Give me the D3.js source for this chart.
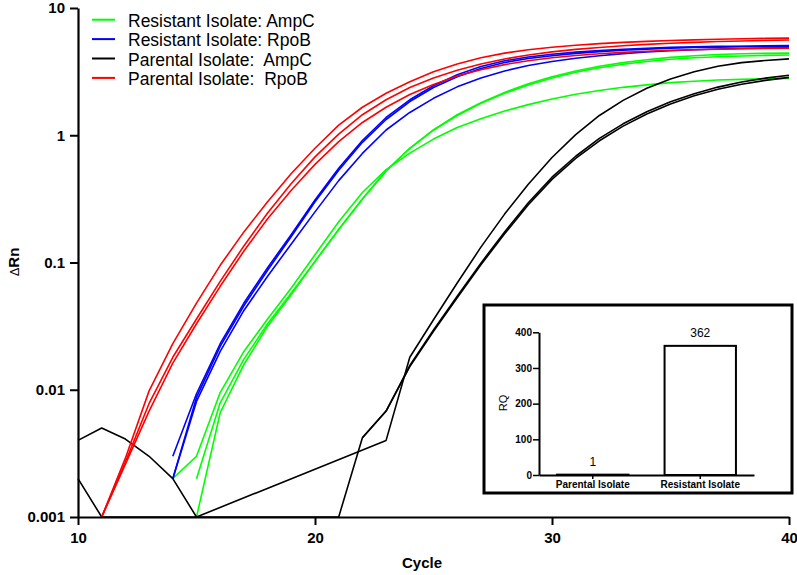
<!DOCTYPE html>
<html><head><meta charset="utf-8">
<script src="https://cdn.jsdelivr.net/npm/d3@7"></script>
<style>
body{margin:0;background:#fff}
svg{display:block}
text{font-family:"Liberation Sans",Arial,sans-serif}
</style>
</head><body>
<svg id="chart" width="797" height="575"></svg>
<script>
// ---------- DATA ----------
const cycles = [10,11,12,13,14,15,16,17,18,19,20,21,22,23,24,25,26,27,28,29,30,31,32,33,34,35,36,37,38,39,40];

// Resistant Isolate: AmpC (green), 3 replicates
const resAmpC1 = [null,null,null,null,0.002,0.003,0.0095,0.02,0.036,0.063,0.115,0.209,0.355,0.537,0.724,0.933,1.15,1.35,1.55,1.74,1.93,2.1,2.25,2.38,2.49,2.59,2.66,2.72,2.75,2.78,2.8];
const resAmpC2 = [null,null,null,null,null,0.002,0.0079,0.0174,0.033,0.0575,0.102,0.182,0.316,0.525,0.79,1.1,1.43,1.78,2.14,2.48,2.82,3.13,3.39,3.61,3.8,3.96,4.06,4.14,4.2,4.24,4.27];
const resAmpC3 = [null,null,null,null,null,0.001,0.0066,0.0158,0.0316,0.056,0.102,0.182,0.316,0.525,0.79,1.1,1.45,1.8,2.17,2.54,2.88,3.2,3.48,3.72,3.92,4.09,4.22,4.31,4.37,4.4,4.42];

// Resistant Isolate: RpoB (blue)
const resRpoB1 = [null,null,null,null,0.003,0.0093,0.023,0.048,0.091,0.166,0.31,0.55,0.91,1.38,1.9,2.45,2.99,3.47,3.85,4.12,4.33,4.5,4.63,4.74,4.83,4.9,4.95,4.99,5.01,5.04,5.06];
const resRpoB2 = [null,null,null,null,0.002,0.0087,0.0219,0.0457,0.087,0.16,0.3,0.53,0.88,1.33,1.84,2.37,2.88,3.35,3.73,4.01,4.22,4.4,4.54,4.66,4.75,4.83,4.89,4.93,4.97,4.99,5.01];
const resRpoB3 = [null,null,null,null,0.002,0.0081,0.02,0.042,0.078,0.14,0.25,0.44,0.72,1.1,1.51,1.95,2.4,2.82,3.2,3.53,3.8,4.03,4.22,4.38,4.51,4.61,4.7,4.76,4.81,4.84,4.86];

// Parental Isolate: AmpC (black)
const parAmpC1 = [0.004,0.005,0.0041,0.003,0.002,0.001,null,null,null,null,null,null,null,0.004,0.018,0.0355,0.069,0.132,0.24,0.412,0.668,1.01,1.43,1.88,2.34,2.77,3.16,3.48,3.72,3.87,3.98];
const parAmpC2 = [0.002,0.001,null,null,null,null,null,null,null,null,null,0.001,0.0042,0.0068,0.0155,0.0295,0.0543,0.0989,0.174,0.295,0.468,0.684,0.944,1.23,1.53,1.83,2.12,2.39,2.62,2.81,2.96];
const parAmpC3 = [null,null,null,null,null,null,null,null,null,null,null,null,0.0042,0.0068,0.0152,0.0288,0.0528,0.096,0.168,0.284,0.45,0.657,0.905,1.18,1.47,1.76,2.04,2.3,2.52,2.7,2.85];

// Parental Isolate: RpoB (red)
const parRpoB1 = [null,0.001,0.0029,0.0098,0.023,0.048,0.095,0.174,0.30,0.50,0.79,1.2,1.66,2.14,2.63,3.16,3.63,4.07,4.42,4.7,4.92,5.09,5.25,5.37,5.47,5.56,5.62,5.68,5.73,5.77,5.8];
const parRpoB2 = [null,0.001,0.0027,0.0078,0.018,0.036,0.071,0.135,0.245,0.417,0.676,1.02,1.45,1.9,2.37,2.82,3.24,3.63,3.98,4.27,4.52,4.73,4.9,5.05,5.18,5.28,5.37,5.45,5.51,5.56,5.6];
const parRpoB3 = [null,0.001,0.0026,0.0068,0.0162,0.033,0.065,0.123,0.221,0.37,0.59,0.89,1.26,1.66,2.09,2.51,2.92,3.27,3.59,3.85,4.06,4.23,4.37,4.48,4.57,4.65,4.7,4.74,4.78,4.81,4.84];

const legendLabels = ["Resistant Isolate: AmpC","Resistant Isolate: RpoB","Parental Isolate:  AmpC","Parental Isolate:  RpoB"];
const seriesColors = ["#00ff00","#0000ff","#000000","#ff0000"];

const xTicks = [10,20,30,40];
const yTicks = [0.001,0.01,0.1,1,10];
const yTickLabels = ["0.001","0.01","0.1","1","10"];

// Inset bar chart
const insetCategories = ["Parental Isolate","Resistant Isolate"];
const insetRQ = [1,362];
const insetTicks = [0,100,200,300,400];

// ---------- CHART ----------
const svg = d3.select("#chart");
const x = d3.scaleLinear().domain([10,40]).range([78,789]);
const y = d3.scaleLog().domain([0.001,10]).range([517,8]);

const groups = [
  [resAmpC1,resAmpC2,resAmpC3],
  [resRpoB1,resRpoB2,resRpoB3],
  [parAmpC1,parAmpC2,parAmpC3],
  [parRpoB1,parRpoB2,parRpoB3]
];

const line = d3.line().x(d=>x(d.c)).y(d=>y(d.v));
groups.forEach((reps,gi)=>{
  reps.forEach(arr=>{
    const pts = cycles.map((c,i)=>({c, v:arr[i]})).filter(d=>d.v!=null);
    svg.append("path").datum(pts)
      .attr("d", line)
      .attr("fill","none")
      .attr("stroke", seriesColors[gi])
      .attr("stroke-width",1.6)
      .attr("stroke-linejoin","round");
  });
});

// Axes
const gx = svg.append("g").attr("transform","translate(0,517)")
  .call(d3.axisBottom(x).tickValues(xTicks).tickFormat(d3.format("d")).tickSize(8).tickSizeOuter(0).tickPadding(7));
const gy = svg.append("g").attr("transform","translate(78,0)")
  .call(d3.axisLeft(y).tickValues(yTicks).tickFormat((d,i)=>yTickLabels[i]).tickSize(8).tickSizeOuter(0).tickPadding(5));
[gx,gy].forEach(g=>{
  g.select(".domain").attr("stroke","#000").attr("stroke-width",2.2);
  g.selectAll(".tick line").attr("stroke","#000").attr("stroke-width",2);
  g.selectAll(".tick text").attr("fill","#000").style("font-size","15px").style("font-weight","bold");
});

// Axis titles
svg.append("text").attr("x",422).attr("y",568).attr("text-anchor","middle")
  .style("font-size","15px").style("font-weight","bold").text("Cycle");
const yt = svg.append("text").attr("transform","translate(19,262) rotate(-90)").attr("text-anchor","middle")
  .style("font-size","15px").style("font-weight","bold");
yt.append("tspan").style("font-weight","normal").style("font-size","13px").text("\u0394");
yt.append("tspan").text("Rn");

// Legend
legendLabels.forEach((lab,i)=>{
  const by = 26.7 + i*19.4;
  svg.append("line").attr("x1",92).attr("x2",115).attr("y1",by-7).attr("y2",by-7)
    .attr("stroke",seriesColors[i]).attr("stroke-width",2);
  svg.append("text").attr("x",128).attr("y",by).style("font-size","17.5px")
    .style("white-space","pre").attr("xml:space","preserve").text(lab);
});

// ---------- INSET ----------
const inset = svg.append("g");
inset.append("rect").attr("x",484).attr("y",305).attr("width",308).attr("height",188)
  .attr("fill","#fff").attr("stroke","#000").attr("stroke-width",3);

const iy = d3.scaleLinear().domain([0,400]).range([475,332.3]);
const ix = d3.scaleBand().domain(insetCategories).range([539,754]).paddingInner(0.336).paddingOuter(0.168);

inset.selectAll(".bar").data(insetCategories).enter().append("rect")
  .attr("x",d=>ix(d)).attr("width",ix.bandwidth())
  .attr("y",(d,i)=>iy(insetRQ[i])).attr("height",(d,i)=>iy(0)-iy(insetRQ[i]))
  .attr("fill","#fff").attr("stroke","#000").attr("stroke-width",2);

inset.selectAll(".val").data(insetCategories).enter().append("text")
  .attr("x",d=>ix(d)+ix.bandwidth()/2).attr("y",(d,i)=>iy(insetRQ[i])-9)
  .attr("text-anchor","middle").style("font-size","12px").text((d,i)=>insetRQ[i]);

const igx = inset.append("g").attr("transform","translate(0,475)")
  .call(d3.axisBottom(ix).tickSize(4).tickSizeOuter(0).tickPadding(2));
const igy = inset.append("g").attr("transform","translate(539,0)")
  .call(d3.axisLeft(iy).tickValues(insetTicks).tickFormat(d3.format("d")).tickSize(6).tickSizeOuter(0).tickPadding(1));
[igx,igy].forEach(g=>{
  g.select(".domain").attr("stroke","#000").attr("stroke-width",2);
  g.selectAll(".tick line").attr("stroke","#000").attr("stroke-width",1.5);
  g.selectAll(".tick text").attr("fill","#000").style("font-size","10px").style("font-weight","bold");
});
inset.append("text").attr("transform","translate(507,403) rotate(-90)").attr("text-anchor","middle")
  .style("font-size","11px").text("RQ");
</script>
</body></html>
